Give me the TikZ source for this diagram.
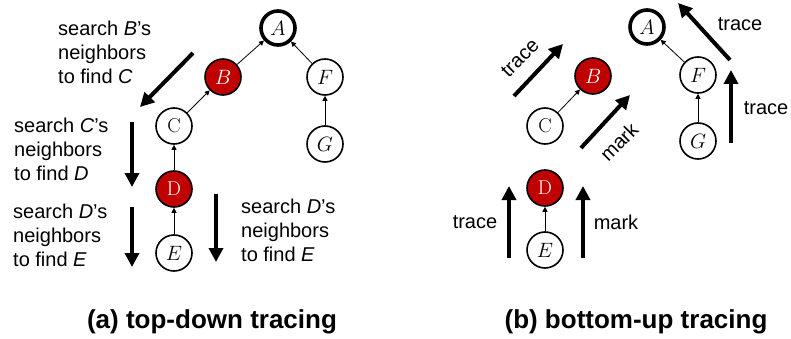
\documentclass[tikz,border=0pt]{standalone}
\usepackage{fontspec}
\setsansfont{Liberation Sans}
\usetikzlibrary{arrows.meta}
\definecolor{hitred}{HTML}{C00000}
\tikzset{
  vtx/.style={circle, draw, line width=1.6pt, minimum size=36pt, inner sep=0pt,
              fill=white, font=\fontsize{20}{20}\selectfont},
  rootvtx/.style={vtx, line width=3.6pt, minimum size=34pt},
  hitvtx/.style={vtx, fill=hitred, text=white},
  link/.style={line width=0.8pt, -{Triangle[width=5pt,length=5pt]}},
  bigarrow/.style={line width=4pt, -{Triangle[width=14pt,length=14pt]}},
  note/.style={font=\sffamily\fontsize{20}{24}\selectfont, align=left, inner sep=0pt},
  tag/.style={font=\sffamily\fontsize{20}{24}\selectfont, inner sep=0pt},
  caption/.style={font=\sffamily\bfseries\fontsize{26}{30}\selectfont, inner sep=0pt}
}
\begin{document}
\begin{tikzpicture}[x=1pt, y=-1pt]
\useasboundingbox (0,0) rectangle (791,339);

% ---------- (a) top-down tracing ----------
\node[rootvtx] (aA) at (278,28) {$A$};
\node[hitvtx]  (aB) at (223,77) {$B$};
\node[vtx]     (aF) at (325,77) {$F$};
\node[vtx]     (aC) at (174,126) {C};
\node[vtx]     (aG) at (325,144) {$G$};
\node[hitvtx]  (aD) at (174,189) {D};
\node[vtx]     (aE) at (174,253) {$E$};

\draw[link] (aB) -- (aA);
\draw[link] (aF) -- (aA);
\draw[link] (aC) -- (aB);
\draw[link] (aG) -- (aF);
\draw[link] (aD) -- (aC);
\draw[link] (aE) -- (aD);

\coordinate (s1) at (193,53);  \coordinate (e1) at (140,107);
\coordinate (s2) at (132,122); \coordinate (e2) at (132,187);
\coordinate (s3) at (132,207); \coordinate (e3) at (132,267);
\coordinate (s4) at (216,194); \coordinate (e4) at (216,262);
\draw[bigarrow] (s1) -- (e1);
\draw[bigarrow] (s2) -- (e2);
\draw[bigarrow] (s3) -- (e3);
\draw[bigarrow] (s4) -- (e4);

\node[note, anchor=west] (n1) at (58,52)  {search \textit{B}’s\\neighbors\\to find \textit{C}};
\node[note, anchor=west] (n2) at (14,149) {search \textit{C}’s\\neighbors\\to find \textit{D}};
\node[note, anchor=west] (n3) at (13,235) {search \textit{D}’s\\neighbors\\to find \textit{E}};
\node[note, anchor=west] (n4) at (241,230) {search \textit{D}’s\\neighbors\\to find \textit{E}};

\node[caption] (capa) at (212,322) {(a) top-down tracing};

% ---------- (b) bottom-up tracing ----------
\node[rootvtx] (bA) at (647,27) {$A$};
\node[hitvtx]  (bB) at (593,76) {$B$};
\node[vtx]     (bC) at (545,126) {C};
\node[vtx]     (bF) at (698,75) {$F$};
\node[vtx]     (bG) at (698,141) {$G$};
\node[hitvtx]  (bD) at (545,188) {D};
\node[vtx]     (bE) at (545,250) {$E$};

\draw[link] (bC) -- (bB);
\draw[link] (bF) -- (bA);
\draw[link] (bG) -- (bF);
\draw[link] (bE) -- (bD);

\coordinate (t1s) at (514,96);  \coordinate (t1e) at (563,44);
\coordinate (m1s) at (581,148); \coordinate (m1e) at (630,95);
\coordinate (t2s) at (730,60);  \coordinate (t2e) at (678,3);
\coordinate (t3s) at (731,143); \coordinate (t3e) at (731,70);
\coordinate (t4s) at (509,258); \coordinate (t4e) at (509,186);
\coordinate (m2s) at (583,258); \coordinate (m2e) at (583,186);
\draw[bigarrow] (t1s) -- (t1e);
\draw[bigarrow] (m1s) -- (m1e);
\draw[bigarrow] (t2s) -- (t2e);
\draw[bigarrow] (t3s) -- (t3e);
\draw[bigarrow] (t4s) -- (t4e);
\draw[bigarrow] (m2s) -- (m2e);

\node[tag, rotate=45] (l1) at (520,58)  {trace};
\node[tag, rotate=45] (l2) at (619,142) {mark};
\node[tag] (l3) at (740,24)  {trace};
\node[tag] (l4) at (766,108) {trace};
\node[tag] (l5) at (475,222) {trace};
\node[tag] (l6) at (616,222) {mark};

\node[caption] (capb) at (636,322) {(b) bottom-up tracing};
\end{tikzpicture}
\end{document}
